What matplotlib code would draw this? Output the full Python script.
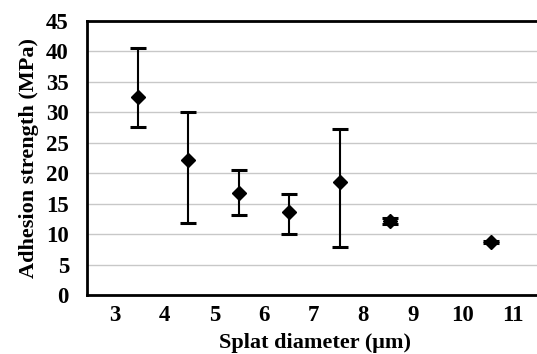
import matplotlib
matplotlib.use("Agg")
import matplotlib.pyplot as plt

# Data
diameter = [3.46, 4.47, 5.49, 6.51, 7.52, 8.54, 10.57]
strength = [32.5, 22.2, 16.8, 13.65, 18.6, 12.2, 8.75]
err_low = [27.5, 11.75, 13.1, 9.95, 7.8, 11.7, 8.6]
err_high = [40.6, 29.95, 20.5, 16.5, 27.2, 12.7, 8.9]

x_ticks = [3, 4, 5, 6, 7, 8, 9, 10, 11]
y_ticks = [0, 5, 10, 15, 20, 25, 30, 35, 40, 45]

plt.rcParams['font.family'] = ['Liberation Serif', 'DejaVu Serif']
plt.rcParams['font.weight'] = 'bold'

fig = plt.figure(figsize=(5.37, 3.54), dpi=100, facecolor='white')
ax = fig.add_axes([87 / 537, 1 - 295 / 354, 1 - 87 / 537 + 0.01, (295 - 20.7) / 354])

# Grid
ax.set_axisbelow(True)
ax.yaxis.grid(True, color='#c8c8c8', linewidth=1.0)

yerr = [[s - lo for s, lo in zip(strength, err_low)],
        [hi - s for s, hi in zip(strength, err_high)]]
ax.errorbar(diameter, strength, yerr=yerr, fmt='D', color='black',
            markersize=7.5, elinewidth=1.5, capsize=5.5, capthick=2.2,
            ecolor='black')

# Limits
ax.set_xlim(2.44, 11.6)
ax.set_ylim(0, 45)
ax.set_xticks(x_ticks)
ax.set_yticks(y_ticks)
ax.tick_params(axis='both', length=0, labelsize=16.5)
ax.tick_params(axis='y', pad=13)
ax.tick_params(axis='x', pad=7)

for side in ['left', 'bottom', 'top', 'right']:
    ax.spines[side].set_linewidth(2.0)
    ax.spines[side].set_color('black')

# Labels
ax.set_xlabel("Splat diameter (\u03bcm)", fontsize=16, fontweight='bold', labelpad=5)
ax.set_ylabel("Adhesion strength (MPa)", fontsize=16, fontweight='bold', labelpad=5)

fig.savefig("out.png", dpi=100)
